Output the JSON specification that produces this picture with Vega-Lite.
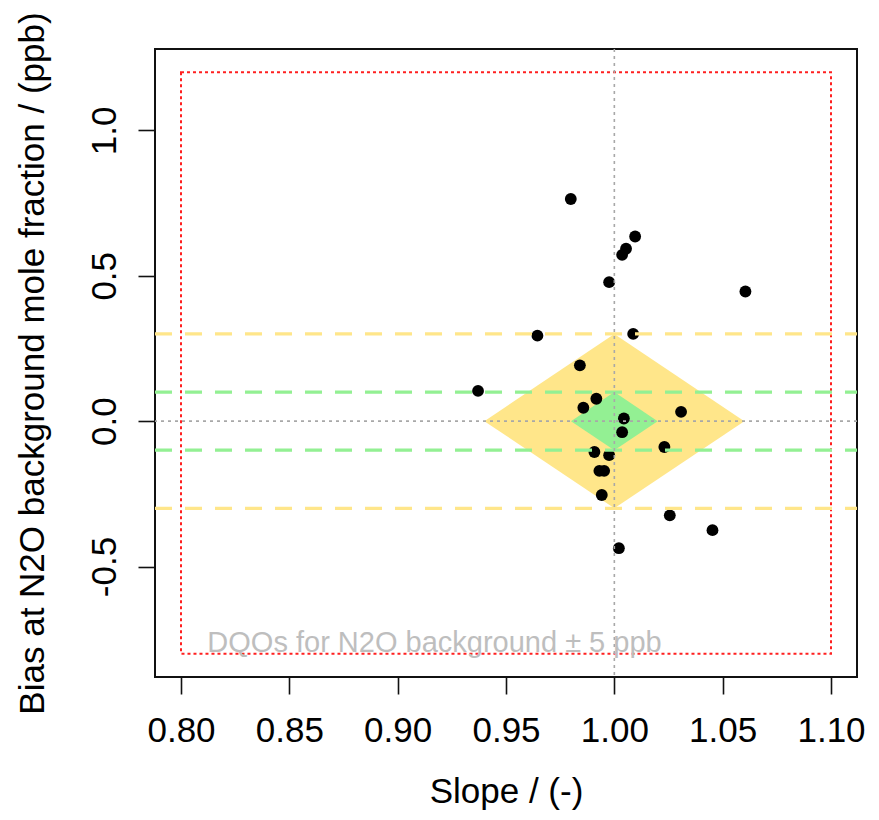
{
  "$schema": "https://vega.github.io/schema/vega-lite/v6.json",
  "width": 702,
  "height": 628,
  "autosize": {"type": "none"},
  "padding": {"left": 155, "top": 49, "right": 22, "bottom": 143},
  "background": "white",
  "config": {
    "view": {"stroke": "#111111", "strokeWidth": 2},
    "font": "Liberation Sans"
  },
  "datasets": {
    "points": [
      {"slope": 0.9799, "bias": 0.764},
      {"slope": 1.0096, "bias": 0.635},
      {"slope": 1.0054, "bias": 0.593},
      {"slope": 1.0036, "bias": 0.572},
      {"slope": 0.9976, "bias": 0.478},
      {"slope": 1.0605, "bias": 0.446},
      {"slope": 0.9645, "bias": 0.294},
      {"slope": 1.0087, "bias": 0.300},
      {"slope": 0.9841, "bias": 0.192},
      {"slope": 0.9371, "bias": 0.104},
      {"slope": 0.9917, "bias": 0.077},
      {"slope": 0.9857, "bias": 0.046},
      {"slope": 1.0308, "bias": 0.032},
      {"slope": 1.0044, "bias": 0.009},
      {"slope": 1.0036, "bias": -0.038},
      {"slope": 1.0231, "bias": -0.089},
      {"slope": 0.9908, "bias": -0.106},
      {"slope": 0.9976, "bias": -0.117},
      {"slope": 0.9931, "bias": -0.171},
      {"slope": 0.9953, "bias": -0.171},
      {"slope": 0.9942, "bias": -0.254},
      {"slope": 1.0256, "bias": -0.324},
      {"slope": 1.0453, "bias": -0.375},
      {"slope": 1.0021, "bias": -0.437}
    ],
    "diamonds": [
      {"zone": "wide", "slope": 0.94, "upper": 0, "lower": 0},
      {"zone": "wide", "slope": 1.0, "upper": 0.3, "lower": -0.3},
      {"zone": "wide", "slope": 1.06, "upper": 0, "lower": 0},
      {"zone": "narrow", "slope": 0.98, "upper": 0, "lower": 0},
      {"zone": "narrow", "slope": 1.0, "upper": 0.1, "lower": -0.1},
      {"zone": "narrow", "slope": 1.02, "upper": 0, "lower": 0}
    ],
    "levels": [
      {"zone": "wide", "bias": 0.3},
      {"zone": "wide", "bias": -0.3},
      {"zone": "narrow", "bias": 0.1},
      {"zone": "narrow", "bias": -0.1}
    ],
    "dqo": [
      {"x1": 0.8, "x2": 1.1, "y1": -0.8, "y2": 1.2}
    ],
    "refx": [{"slope": 1.0}],
    "refy": [{"bias": 0.0}],
    "note": [{"slope": 0.917, "bias": -0.795, "label": "DQOs for N2O background ± 5 ppb"}]
  },
  "encoding": {
    "x": {
      "type": "quantitative",
      "scale": {"domain": [0.788, 1.112], "nice": false, "zero": false},
      "axis": {
        "title": "Slope / (-)",
        "values": [0.8, 0.85, 0.9, 0.95, 1.0, 1.05, 1.1],
        "format": ".2f",
        "grid": false,
        "domain": false,
        "ticks": true,
        "tickSize": 17,
        "tickWidth": 1.6,
        "tickColor": "#111111",
        "labelPadding": 19,
        "labelFontSize": 35,
        "labelFont": "Liberation Sans",
        "labelColor": "#000000",
        "labelFlush": false,
        "labelOverlap": false,
        "titleFontSize": 35,
        "titleFont": "Liberation Sans",
        "titleFontWeight": "normal",
        "titleColor": "#000000",
        "titleX": 351,
        "titleY": 125,
        "titleAlign": "center",
        "titleBaseline": "alphabetic"
      }
    },
    "y": {
      "type": "quantitative",
      "scale": {"domain": [-0.88, 1.28], "nice": false, "zero": false},
      "axis": {
        "title": "Bias at N2O background mole fraction / (ppb)",
        "values": [-0.5, 0, 0.5, 1.0],
        "labelExpr": "datum.value < 0 ? '-' + format(-datum.value, '.1f') : format(datum.value, '.1f')",
        "grid": false,
        "domain": false,
        "tickSize": 17,
        "tickWidth": 1.6,
        "tickColor": "#111111",
        "labelAngle": 270,
        "labelAlign": "center",
        "labelBaseline": "bottom",
        "labelPadding": 16,
        "labelFontSize": 35,
        "labelFont": "Liberation Sans",
        "labelColor": "#000000",
        "labelFlush": false,
        "labelOverlap": false,
        "titleFontSize": 35,
        "titleFont": "Liberation Sans",
        "titleFontWeight": "normal",
        "titleColor": "#000000",
        "titleAngle": 270,
        "titleX": -112,
        "titleY": 314,
        "titleAlign": "center",
        "titleBaseline": "alphabetic"
      }
    }
  },
  "layer": [
    {
      "data": {"name": "diamonds"},
      "transform": [{"filter": "datum.zone == 'wide'"}],
      "mark": {"type": "area", "orient": "vertical", "interpolate": "linear", "color": "#FFE68A", "opacity": 1},
      "encoding": {
        "x": {"field": "slope"},
        "y": {"field": "upper"},
        "y2": {"field": "lower"}
      }
    },
    {
      "data": {"name": "diamonds"},
      "transform": [{"filter": "datum.zone == 'narrow'"}],
      "mark": {"type": "area", "orient": "vertical", "interpolate": "linear", "color": "#93F093", "opacity": 1},
      "encoding": {
        "x": {"field": "slope"},
        "y": {"field": "upper"},
        "y2": {"field": "lower"}
      }
    },
    {
      "data": {"name": "dqo"},
      "mark": {"type": "rect", "filled": false, "stroke": "#FF2020", "strokeWidth": 2, "strokeDash": [3, 3]},
      "encoding": {
        "x": {"field": "x1"},
        "x2": {"field": "x2"},
        "y": {"field": "y1"},
        "y2": {"field": "y2"}
      }
    },
    {
      "data": {"name": "points"},
      "mark": {"type": "circle", "size": 140, "opacity": 1, "color": "#000000"},
      "encoding": {
        "x": {"field": "slope"},
        "y": {"field": "bias"}
      }
    },
    {
      "data": {"name": "levels"},
      "mark": {"type": "rule", "strokeWidth": 3.3, "strokeDash": [17, 13], "strokeDashOffset": 5},
      "encoding": {
        "y": {"field": "bias"},
        "color": {"field": "zone", "type": "nominal", "scale": {"domain": ["wide", "narrow"], "range": ["#FFE68A", "#93F093"]}, "legend": null}
      }
    },
    {
      "data": {"name": "refx"},
      "mark": {"type": "rule", "color": "#A8A8A8", "strokeWidth": 1.6, "strokeDash": [3, 4]},
      "encoding": {"x": {"field": "slope"}}
    },
    {
      "data": {"name": "refy"},
      "mark": {"type": "rule", "color": "#A8A8A8", "strokeWidth": 1.6, "strokeDash": [3, 4]},
      "encoding": {"y": {"field": "bias"}}
    },
    {
      "data": {"name": "note"},
      "mark": {"type": "text", "fontSize": 29, "font": "Liberation Sans", "color": "#BEBEBE", "align": "center", "baseline": "alphabetic"},
      "encoding": {
        "x": {"field": "slope"},
        "y": {"field": "bias"},
        "text": {"field": "label"}
      }
    }
  ]
}
